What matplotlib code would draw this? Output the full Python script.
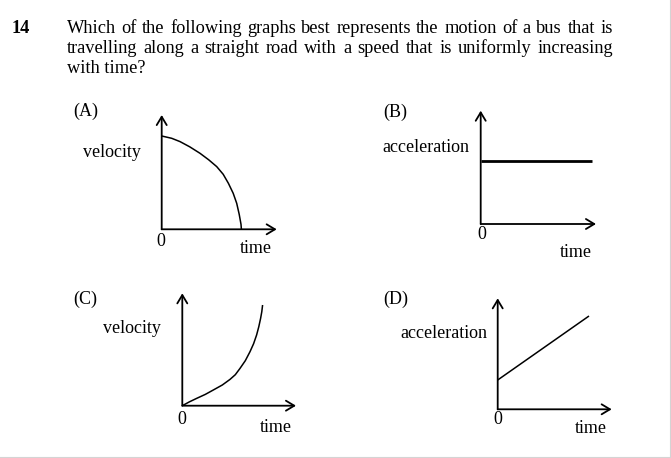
import matplotlib
matplotlib.use("Agg")
import matplotlib.pyplot as plt
from matplotlib.lines import Line2D

W, H = 671, 458
FONT = "Liberation Serif"

# ---------------- data (offsets from each graph's origin) -------------
title_num = "14"
title_lines = [
    "Which of the following graphs best represents the motion of a bus that is",
    "travelling along a straight road with a speed that is uniformly increasing",
    "with time?",
]
option_labels = ["(A)", "(B)", "(C)", "(D)"]
y_labels = ["velocity", "acceleration", "velocity", "acceleration"]
x_label = "time"
zero_label = "0"

# (A) velocity decreasing, concave down
A_time = [0, 10, 18.3, 28, 38.3, 47, 55, 61.5, 66.7, 71.5, 75, 77.5, 79.3, 79.7]
A_vel = [93.3, 91, 87.7, 82.5, 76, 69.5, 62.7, 55, 46, 36, 26, 15, 5, 0]
# (B) constant acceleration
B_time = [0, 111.7]
B_acc = [63.3, 63.3]
# (C) velocity increasing, concave up
C_time = [0, 7, 14.3, 23, 31, 40, 47.7, 53, 57.7, 63, 67.7, 71.3, 74.3, 76.5, 78.3, 79.5, 80.3]
C_vel = [0, 3.8, 7.3, 11.3, 15.7, 20.7, 26.3, 31, 37.3, 45, 54, 62, 70.7, 79, 87.3, 94, 100.7]
# (D) acceleration increasing linearly
D_time = [0, 91.3]
D_acc = [29.3, 93.3]

# ---------------- layout ----------------
origins = [(161.7, 229.3), (480.7, 224.0), (182.3, 405.7), (497.7, 409.3)]
axis_tips = [(115, 114.3), (115.3, 113.3), (113.7, 112.4), (114.0, 111.0)]
series = [(A_time, A_vel, 1.1), (B_time, B_acc, 2.0), (C_time, C_vel, 1.1), (D_time, D_acc, 1.1)]

opt_pos = [(73.3, 115.7), (383.3, 116.7), (73.3, 304.0), (383.3, 304.0)]
ylab_pos = [(82.7, 157.3), (382.7, 152.3), (103.3, 333.3), (400.0, 337.7)]
zero_pos = [(161.3, 246.5), (481.5, 239.0), (181.5, 424.0), (498.3, 424.0)]
time_pos = [(240.0, 253.3), (560.0, 256.7), (260.0, 431.7), (575.0, 433.0)]

FS = 13.0

fig = plt.figure(figsize=(W / 100, H / 100), dpi=100)
fig.patch.set_facecolor("white")


def px(x, y):
    return x / W, 1 - y / H


for (ox, oy), (tx, ty), (xs, ys, lw) in zip(origins, axis_tips, series):
    ax = fig.add_axes([0, 0, 1, 1])
    ax.set_xlim(-ox, W - ox)
    ax.set_ylim(oy - H, oy)
    ax.axis("off")
    ax.patch.set_alpha(0)
    style = "->,head_length=0.6,head_width=0.36"
    ax.annotate("", xy=(0, ty), xytext=(0, 0),
                arrowprops=dict(arrowstyle=style, lw=1.3, color="black",
                                shrinkA=0, shrinkB=0))
    ax.annotate("", xy=(tx, 0), xytext=(0, 0),
                arrowprops=dict(arrowstyle=style, lw=1.3, color="black",
                                shrinkA=0, shrinkB=0))
    ax.plot(xs, ys, color="black", lw=lw, solid_capstyle="butt")

for lab, (x, y) in zip(option_labels, opt_pos):
    fig.text(*px(x, y), lab, family=FONT, fontsize=FS, va="baseline", ha="left")
for lab, (x, y) in zip(y_labels, ylab_pos):
    fig.text(*px(x, y), lab, family=FONT, fontsize=FS, va="baseline", ha="left")
for (x, y) in zero_pos:
    fig.text(*px(x, y), zero_label, family=FONT, fontsize=FS, va="baseline", ha="center")
for (x, y) in time_pos:
    fig.text(*px(x, y), x_label, family=FONT, fontsize=FS, va="baseline", ha="left")

renderer = fig.canvas.get_renderer()

TFS = 13.2
fig.text(*px(12, 32.7), title_num, family=FONT, fontsize=TFS, fontweight="bold",
         va="baseline", ha="left")


def justify(line, x0, x1, y, fs):
    words = line.split(" ")
    texts = [fig.text(0, 0, w, family=FONT, fontsize=fs, va="baseline", ha="left")
             for w in words]
    widths = [t.get_window_extent(renderer).width for t in texts]
    gap = ((x1 - x0) - sum(widths)) / (len(words) - 1)
    x = x0
    for t, wd in zip(texts, widths):
        t.set_position(px(x, y))
        x += wd + gap


justify(title_lines[0], 66.7, 612.7, 32.7, TFS)
justify(title_lines[1], 66.7, 613.3, 53.3, TFS)
fig.text(*px(66.7, 73.3), title_lines[2], family=FONT, fontsize=TFS, va="baseline", ha="left")

# light grey frame at right and bottom edges
fig.add_artist(Line2D([669.5 / W, 669.5 / W], [0, 1], transform=fig.transFigure,
                      color="#d4d4d4", lw=0.8))
fig.add_artist(Line2D([0, 669.5 / W], [1 - 456.5 / H, 1 - 456.5 / H], transform=fig.transFigure,
                      color="#d4d4d4", lw=0.8))

fig.savefig("out.png", dpi=100, facecolor="white")
